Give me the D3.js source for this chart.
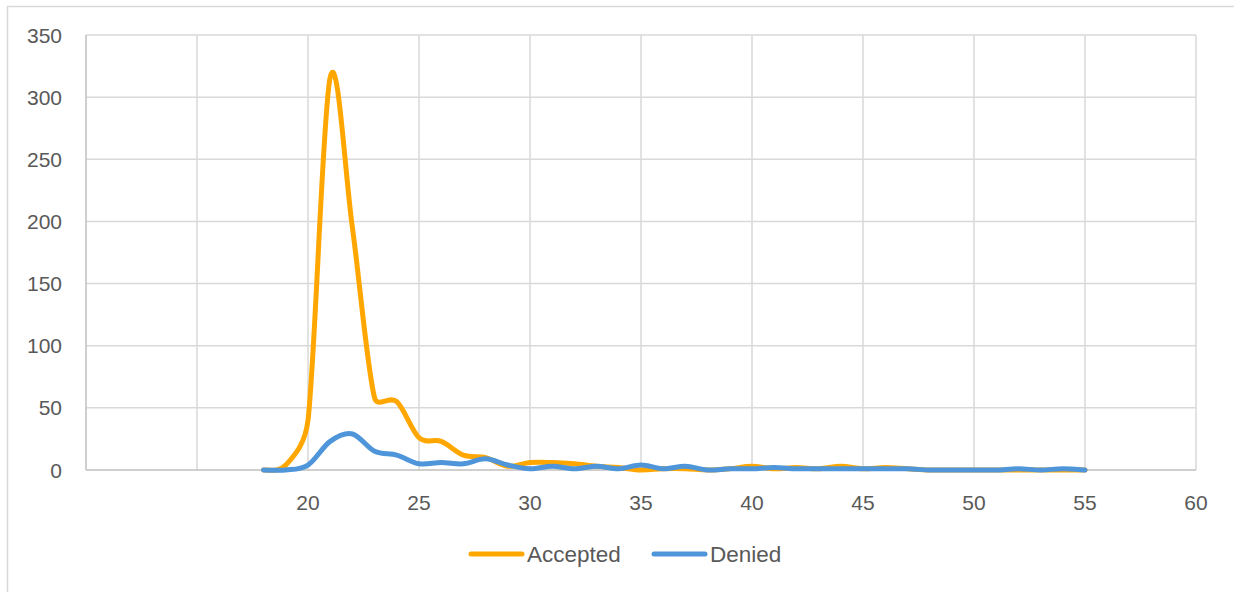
<!DOCTYPE html>
<html>
<head>
<meta charset="utf-8">
<script src="https://cdn.jsdelivr.net/npm/d3@7"></script>
<style>
  html, body { margin: 0; padding: 0; background: #fff; }
  svg { display: block; }
  text { font-family: "Liberation Sans", Arial, sans-serif; fill: #595959; }
</style>
</head>
<body>
<svg id="chart" width="1234" height="592"></svg>
<script>
const ages = [18,19,20,21,22,23,24,25,26,27,28,29,30,31,32,33,34,35,36,37,38,39,40,41,42,43,44,45,46,47,48,49,50,51,52,53,54,55];
const accepted = [0,4,40,316,195,58,55,26,23,12,10,3,6,6,5,3,2,0,1,1,0,1,3,1,2,1,3,1,2,1,0,0,0,0,0,0,0,0];
const denied   = [0,0,4,23,29,15,12,5,6,5,9,4,1,3,1,3,1,4,1,3,0,1,1,2,1,1,1,1,1,1,0,0,0,0,1,0,1,0];
const xTicks = [10,15,20,25,30,35,40,45,50,55,60];
const xTickLabels = ["","","20","25","30","35","40","45","50","55","60"];
const yTicks = [0,50,100,150,200,250,300,350];
const seriesNames = ["Accepted","Denied"];
const seriesColors = ["#FFA700","#4E95D9"];

// Spreadsheet-style smoothing: Catmull-Rom tangents (1/6) clamped to half the segment length
function SmoothCurve(context) { this._context = context; }
SmoothCurve.prototype = {
  areaStart() {}, areaEnd() {},
  lineStart() { this._p = []; },
  point(px, py) { this._p.push([+px, +py]); },
  lineEnd() {
    const p = this._p, c = this._context, n = p.length;
    if (!n) return;
    c.moveTo(p[0][0], p[0][1]);
    const dist = (a, b) => Math.hypot(b[0]-a[0], b[1]-a[1]);
    for (let i = 0; i < n - 1; i++) {
      const p0 = p[Math.max(0, i-1)], p1 = p[i], p2 = p[i+1], p3 = p[Math.min(n-1, i+2)];
      const d12 = dist(p1, p2);
      let v1 = [(p2[0]-p0[0])/6, (p2[1]-p0[1])/6];
      let v2 = [(p3[0]-p1[0])/6, (p3[1]-p1[1])/6];
      const l1 = Math.hypot(v1[0], v1[1]), l2 = Math.hypot(v2[0], v2[1]);
      if (l1 > d12/2 && l1 > 0) { const s = (d12/2)/l1; v1 = [v1[0]*s, v1[1]*s]; }
      if (l2 > d12/2 && l2 > 0) { const s = (d12/2)/l2; v2 = [v2[0]*s, v2[1]*s]; }
      c.bezierCurveTo(p1[0]+v1[0], p1[1]+v1[1], p2[0]-v2[0], p2[1]-v2[1], p2[0], p2[1]);
    }
  }
};
const curveSmooth = ctx => new SmoothCurve(ctx);

const svg = d3.select("#chart");
const L = 86, R = 1196, T = 35, B = 470;

svg.append("rect").attr("x",7.5).attr("y",6.5).attr("width",1240).attr("height",600)
  .attr("fill","none").attr("stroke","#d9d9d9").attr("stroke-width",1.5);

const x = d3.scaleLinear().domain([10,60]).range([L,R]);
const y = d3.scaleLinear().domain([0,350]).range([B,T]);

const g = svg.append("g");
g.selectAll(".vg").data(xTicks.slice(1)).join("line")
  .attr("x1",d=>x(d)).attr("x2",d=>x(d)).attr("y1",T).attr("y2",B)
  .attr("stroke","#d9d9d9").attr("stroke-width",1.5);
g.selectAll(".hg").data(yTicks.slice(1)).join("line")
  .attr("x1",L).attr("x2",R).attr("y1",d=>y(d)).attr("y2",d=>y(d))
  .attr("stroke","#d9d9d9").attr("stroke-width",1.5);

svg.append("line").attr("x1",L).attr("x2",L).attr("y1",T).attr("y2",B)
  .attr("stroke","#bfbfbf").attr("stroke-width",1.5);
svg.append("line").attr("x1",L).attr("x2",R).attr("y1",B).attr("y2",B)
  .attr("stroke","#bfbfbf").attr("stroke-width",1.5);

svg.selectAll(".yl").data(yTicks).join("text")
  .attr("x",62).attr("y",d=>y(d)+7.5).attr("text-anchor","end")
  .attr("font-size",21).text(d=>d);

svg.selectAll(".xl").data(xTicks).join("text")
  .attr("x",d=>x(d)).attr("y",510).attr("text-anchor","middle")
  .attr("font-size",21).text((d,i)=>xTickLabels[i]);

const line = d3.line().x(d=>x(d[0])).y(d=>y(d[1])).curve(curveSmooth);
[accepted, denied].forEach((vals,i)=>{
  svg.append("path").datum(ages.map((a,j)=>[a, vals[j]]))
    .attr("d",line).attr("fill","none").attr("stroke",seriesColors[i])
    .attr("stroke-width",5).attr("stroke-linecap","round").attr("stroke-linejoin","round");
});

const legendX = [469, 652];
seriesNames.forEach((n,i)=>{
  svg.append("line").attr("x1",legendX[i]+2).attr("x2",legendX[i]+53)
    .attr("y1",554).attr("y2",554).attr("stroke",seriesColors[i])
    .attr("stroke-width",5).attr("stroke-linecap","round");
  svg.append("text").attr("x",legendX[i]+58).attr("y",562)
    .attr("font-size",22.5).text(n);
});
</script>
</body>
</html>
